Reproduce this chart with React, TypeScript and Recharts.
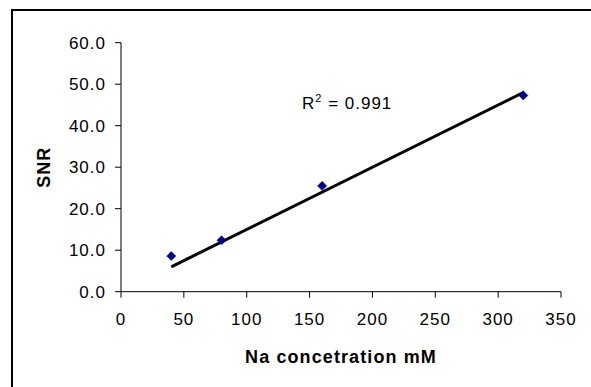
import React from 'react';
import { ScatterChart, Scatter, XAxis, YAxis } from 'recharts';

const concentrations = [40, 80, 160, 320];
const snrValues = [8.6, 12.4, 25.5, 47.3];
const trendX = [40, 320];
const trendY = [6.0, 48.0];
const xTicks = [0, 50, 100, 150, 200, 250, 300, 350];
const yTicks = [0, 10, 20, 30, 40, 50, 60];
const xTitle = 'Na concetration mM';
const yTitle = 'SNR';
const r2Text = '0.991';

const points = concentrations.map((x, i) => ({ x, y: snrValues[i] }));
const trend = trendX.map((x, i) => ({ x, y: trendY[i] }));

const FONT = '"Liberation Sans", Arial, sans-serif';

const Diamond = (props: any) => {
  const { cx, cy } = props;
  const s = 4.6;
  return (
    <polygon
      points={`${cx},${cy - s} ${cx + s},${cy} ${cx},${cy + s} ${cx - s},${cy}`}
      fill="#000080"
      stroke="#000080"
      strokeWidth={0.5}
    />
  );
};

const YLabel = (props: any) => {
  const vb = props.viewBox || {};
  const x = vb.x + 33;
  const y = vb.y + vb.height / 2;
  return (
    <text
      x={x}
      y={y}
      transform={`rotate(-90, ${x}, ${y})`}
      textAnchor="middle"
      dominantBaseline="central"
      fontFamily={FONT}
      fontWeight="bold"
      fontSize={18}
      letterSpacing={1}
      fill="#000"
    >
      {yTitle}
    </text>
  );
};

const XLabel = (props: any) => {
  const vb = props.viewBox || {};
  const x = vb.x + vb.width / 2;
  const y = vb.y + 71;
  return (
    <text
      x={x}
      y={y}
      textAnchor="middle"
      fontFamily={FONT}
      fontWeight="bold"
      fontSize={18}
      letterSpacing={1.1}
      fill="#000"
    >
      {xTitle}
    </text>
  );
};

export default function App() {
  return (
    <div
      style={{
        position: 'absolute',
        left: 0,
        top: 0,
        width: 591,
        height: 387,
        overflow: 'hidden',
        background: '#fff',
      }}
    >
      <ScatterChart
        width={591}
        height={387}
        margin={{ top: 42.7, right: 30, left: 11, bottom: 0 }}
      >
        <XAxis
          type="number"
          dataKey="x"
          domain={[0, 350]}
          ticks={xTicks}
          interval={0}
          height={95.3}
          axisLine={{ stroke: '#000', strokeWidth: 1 }}
          tickLine={{ stroke: '#000', strokeWidth: 1 }}
          tickSize={6}
          tickMargin={15}
          tick={{ fill: '#000', fontSize: 17, fontFamily: FONT, letterSpacing: 1 }}
          label={<XLabel />}
        />
        <YAxis
          type="number"
          dataKey="y"
          domain={[0, 60]}
          ticks={yTicks}
          interval={0}
          width={110}
          axisLine={{ stroke: '#000', strokeWidth: 1 }}
          tickLine={{ stroke: '#000', strokeWidth: 1 }}
          tickSize={6}
          tickMargin={9}
          tickFormatter={(v: number) => v.toFixed(1)}
          tick={{ fill: '#000', fontSize: 17, fontFamily: FONT, letterSpacing: 1 }}
          label={<YLabel />}
        />
        <Scatter
          data={trend}
          line={{ stroke: '#000', strokeWidth: 3 }}
          shape={() => null}
          isAnimationActive={false}
          legendType="none"
        />
        <Scatter
          data={points}
          shape={<Diamond />}
          isAnimationActive={false}
        />
      </ScatterChart>
      <svg
        width={591}
        height={387}
        style={{ position: 'absolute', left: 0, top: 0, pointerEvents: 'none' }}
      >
        <line x1={12} y1={10} x2={600} y2={10} stroke="#000" strokeWidth={2} />
        <line x1={12} y1={9} x2={12} y2={400} stroke="#000" strokeWidth={2} />
        <text x={302} y={109} fontFamily={FONT} fontSize={17} letterSpacing={1} fill="#000">
          R
          <tspan dy={-7} fontSize={11}>2</tspan>
          <tspan dy={7}>{` = ${r2Text}`}</tspan>
        </text>
      </svg>
    </div>
  );
}
